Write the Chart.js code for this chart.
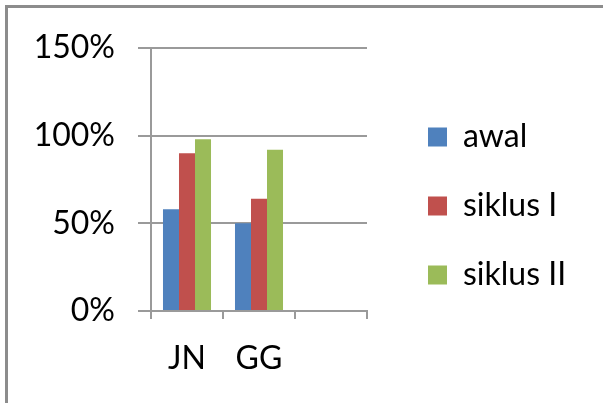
<!DOCTYPE html>
<html>
<head>
<meta charset="utf-8">
<script src="https://cdn.jsdelivr.net/npm/chart.js@4.4.1/dist/chart.umd.min.js"></script>
<style>
  body { margin: 0; background: #fff; }
  #wrap { position: relative; width: 603px; height: 403px; }
</style>
</head>
<body>
<div id="wrap"><canvas id="grafico"></canvas></div>
<script>
// datos
const categorias = ['JN', 'GG', ''];
const awal = [58, 50, null];
const siklus1 = [90, 64, null];
const siklus2 = [98, 92, null];
const ticksY = [0, 50, 100, 150];

const gris = '#9a9a9a';
const fuente = 'Lato, "Liberation Sans", sans-serif';
const tamLeyenda = 32;
const sepLeyenda = 37;
const cajaLeyenda = 19;

// ancho de la leyenda, para que el area del grafico termine en x=367
const medidor = document.createElement('canvas').getContext('2d');
medidor.font = tamLeyenda + 'px ' + fuente;
const textoMax = Math.max(...['awal', 'siklus I', 'siklus II'].map((t) => medidor.measureText(t).width));
const anchoLeyenda = sepLeyenda + cajaLeyenda + tamLeyenda / 2 + textoMax + 10;
const margenDer = Math.max(0, 603 - 367 - 24 - anchoLeyenda);

// marco gris arriba e izquierda
const marco = {
  id: 'marco',
  beforeDraw(chart) {
    const ctx = chart.ctx;
    ctx.save();
    ctx.strokeStyle = '#8c8c8c';
    ctx.lineWidth = 3;
    ctx.beginPath();
    ctx.moveTo(6.5, 403);
    ctx.lineTo(6.5, 6.5);
    ctx.lineTo(603, 6.5);
    ctx.stroke();
    ctx.restore();
  }
};

new Chart(document.getElementById('grafico'), {
  type: 'bar',
  data: {
    labels: categorias,
    datasets: [
      { label: 'awal', data: awal, backgroundColor: '#4F81BD' },
      { label: 'siklus I', data: siklus1, backgroundColor: '#C0504D' },
      { label: 'siklus II', data: siklus2, backgroundColor: '#9BBB59' },
    ],
  },
  options: {
    responsive: true,
    maintainAspectRatio: false,
    animation: false,
    datasets: { bar: { categoryPercentage: 0.667, barPercentage: 1 } },
    layout: { padding: { left: 0, top: 9, right: margenDer, bottom: 0 } },
    plugins: {
      tooltip: { enabled: false },
      legend: {
        position: 'right',
        maxWidth: 240,
        labels: {
          boxWidth: cajaLeyenda,
          boxHeight: cajaLeyenda,
          padding: sepLeyenda,
          color: '#000',
          font: { family: fuente, size: tamLeyenda },
        },
      },
    },
    scales: {
      x: {
        grid: { drawOnChartArea: false, tickLength: 8, color: gris, lineWidth: 2, offset: true },
        border: { color: gris, width: 2 },
        ticks: { color: '#000', padding: 20, font: { family: fuente, size: 32 }, maxRotation: 0 },
        afterFit(scale) { scale.height = 92; },
      },
      // eje vacio arriba, solo para el margen superior
      x2: {
        type: 'category',
        position: 'top',
        grid: { display: false },
        border: { display: false },
        ticks: { display: false },
        afterFit(scale) { scale.height = 39; },
      },
      y: {
        min: 0,
        max: 150,
        afterBuildTicks(scale) { scale.ticks = ticksY.map((v) => ({ value: v })); },
        grid: { color: gris, lineWidth: 2, tickLength: 13 },
        border: { color: gris, width: 2 },
        ticks: {
          color: '#000',
          padding: 23,
          font: { family: fuente, size: 32 },
          callback: (v) => v + '%',
        },
        afterFit(scale) { scale.width = 151; },
      },
      // eje vacio para separar la leyenda
      y2: {
        position: 'right',
        grid: { display: false },
        border: { display: false },
        ticks: { display: false },
        afterFit(scale) { scale.width = 24; },
      },
    },
  },
  plugins: [marco],
});
</script>
</body>
</html>
